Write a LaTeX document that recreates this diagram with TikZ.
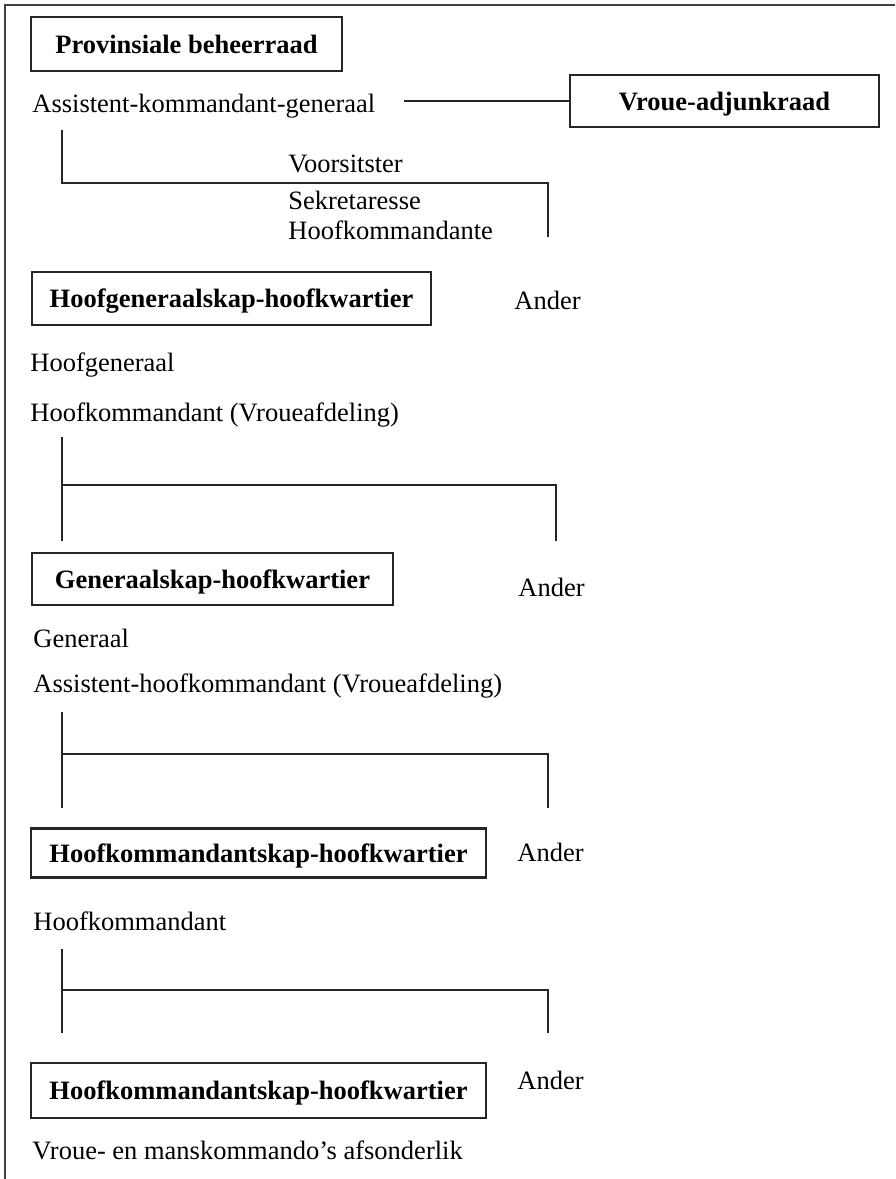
\documentclass[tikz,border=0pt]{standalone}
\usepackage{fontspec}
\setmainfont{Liberation Serif}
\begin{document}
\begin{tikzpicture}[x=0.5pt, y=-0.5pt,
	font=\fontsize{13.25pt}{16pt}\selectfont,
	hq/.style={rectangle, draw=black!85, line width=1.4pt, inner sep=0pt, text height=9pt, text depth=0pt, font=\fontsize{13.25pt}{16pt}\selectfont\bfseries},
	lbl/.style={anchor=base west, inner sep=0pt},
	tline/.style={line width=1.2pt, draw=black!85},
	frame/.style={line width=0.7pt, draw=black!75}]
	\useasboundingbox (0,0) rectangle (895,1179);
	% Frame
	\draw [frame] (5,1179) -- (5,5) -- (895,5);
	% Place nodes
	\node [hq, minimum width=155.5pt, minimum height=27pt] (pbr) at (186.5,44) {Provinsiale beheerraad};
	\node [lbl] (akg) at (32,112) {Assistent-kommandant-generaal};
	\node [hq, minimum width=154.5pt, minimum height=26pt] (var) at (724.5,101) {Vroue-adjunkraad};
	\node [lbl] (vst) at (288,172) {Voorsitster};
	\node [lbl] (sek) at (288,209) {Sekretaresse};
	\node [lbl] (hkte) at (288,239) {Hoofkommandante};
	
	\node [hq, minimum width=199.5pt, minimum height=26.5pt] (hgk) at (231.5,298.5) {Hoofgeneraalskap-hoofkwartier};
	\node [lbl] (and1) at (514,309) {Ander};
	\node [lbl] (hgen) at (30,371) {Hoofgeneraal};
	\node [lbl] (hkv) at (30,421) {Hoofkommandant (Vroueafdeling)};
	
	\node [hq, minimum width=180.5pt, minimum height=26pt] (gk) at (212.5,579) {Generaalskap-hoofkwartier};
	\node [lbl] (and2) at (518,596) {Ander};
	\node [lbl] (gen) at (33,647) {Generaal};
	\node [lbl] (ahkv) at (33,692) {Assistent-hoofkommandant (Vroueafdeling)};
	
	\node [hq, minimum width=227.5pt, minimum height=24.5pt] (hkk1) at (258.5,853) {Hoofkommandantskap-hoofkwartier};
	\node [lbl] (and3) at (517,861) {Ander};
	\node [lbl] (hkm) at (33,930) {Hoofkommandant};
	
	\node [hq, minimum width=227.5pt, minimum height=27.5pt] (hkk2) at (258.5,1090.5) {Hoofkommandantskap-hoofkwartier};
	\node [lbl] (and4) at (517,1089) {Ander};
	\node [lbl] (vmk) at (32,1159) {Vroue- en manskommando's afsonderlik};
	
	% Connectors
	\draw [tline] ([xshift=14pt]akg.east |- var.west) -- (var.west);
	\coordinate (t1a) at (62,130);
	\coordinate (t1b) at (548,183);
	\coordinate (t1c) at (548,237);
	\draw [tline] (t1a) |- (t1b) -- (t1c);
	
	\coordinate (t2a) at (62,437);
	\coordinate (t2b) at (62,541);
	\coordinate (t2j) at (62,485);
	\coordinate (t2c) at (556,541);
	\draw [tline] (t2a) -- (t2b) (t2j) -| (t2c);
	
	\coordinate (t3a) at (62,712);
	\coordinate (t3b) at (62,808);
	\coordinate (t3j) at (62,754);
	\coordinate (t3c) at (548,808);
	\draw [tline] (t3a) -- (t3b) (t3j) -| (t3c);
	
	\coordinate (t4a) at (62,949);
	\coordinate (t4b) at (62,1033);
	\coordinate (t4j) at (62,990);
	\coordinate (t4c) at (548,1033);
	\draw [tline] (t4a) -- (t4b) (t4j) -| (t4c);
\end{tikzpicture}
\end{document}
